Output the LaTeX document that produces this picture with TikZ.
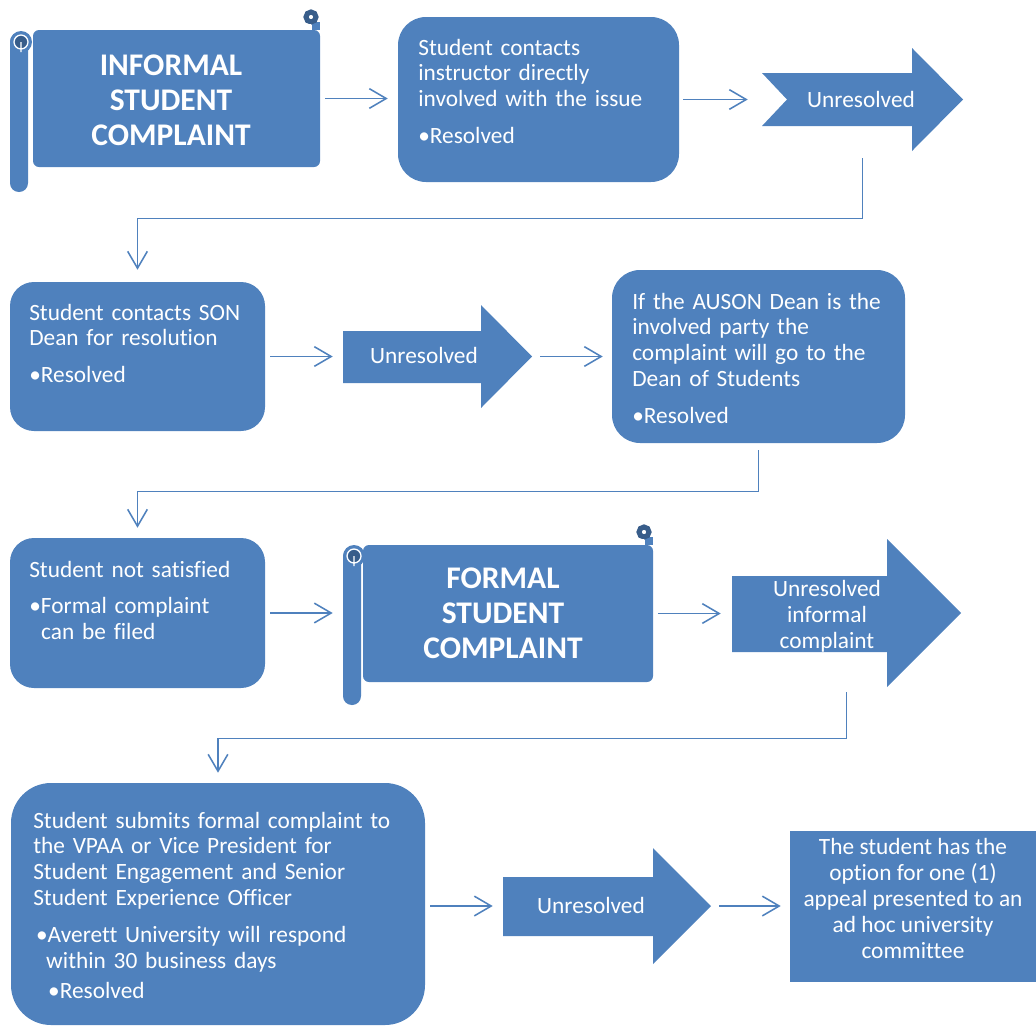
\documentclass[tikz,border=0pt]{standalone}
\usepackage{fontspec}
\setmainfont{Carlito}[Ligatures=CommonOff]
\usetikzlibrary{arrows.meta, fit}
\definecolor{flowblue}{HTML}{4F81BD}
\definecolor{curlblue}{HTML}{385D8A}
\tikzstyle{box}=[fill=flowblue, inner sep=0pt]
\tikzstyle{conn}=[draw=flowblue, line width=1.1pt, -{Straight Barb[length=12pt, width=14pt]}]
\tikzstyle{txt}=[text=white, inner sep=0pt, font=\fontsize{16.6}{18.4}\selectfont]
\tikzstyle{boxtxt}=[txt, align=left, text width=10cm, anchor=base west]
\tikzstyle{bigtxt}=[text=white, inner sep=0pt, align=center, font=\bfseries\fontsize{22.4}{24.8}\selectfont]

\begin{document}
\begin{tikzpicture}[x=0.025cm, y=-0.025cm]
	\useasboundingbox (0,0) rectangle (1036,1026);

	% Informal scroll
	\node[box, rounded corners=0.15cm, fit={(33,30) (320,167)}] (informal) {};
	\fill[flowblue, rounded corners=0.22cm] (10,33) rectangle (28,192);
	\fill[flowblue] (21,42) circle (11);
	\fill[curlblue] (21,42) circle (6);
	\draw[white, line width=0.9pt] (21,42) circle (7) (21,42) -- (21,52);
	\fill[flowblue] (312,30) rectangle (320,22);
	\draw[curlblue, line width=3.6pt] (311,17) circle (5);
	\draw[white, line width=1.4pt] (301,25) -- (311,25);
	\node[bigtxt] (informal-t) at (171,100) {INFORMAL\\STUDENT\\COMPLAINT};

	\node[box, rounded corners=0.7cm, fit={(398,17) (679,182)}] (box2) {};
	\node[boxtxt] (box2-t) at (418,55) {Student contacts\\instructor directly\\involved with the issue\\[7.8pt]•Resolved};

	\fill[flowblue] (762,73) -- (912,73) -- (912,48) -- (963,99.5) -- (912,151) -- (912,126) -- (762,126) -- (787,99.5) -- cycle;
	\node[fit={(762,48) (963,151)}, inner sep=0pt] (unres1) {};
	\node[txt, anchor=base] (unres1-t) at (861,107) {Unresolved};

	% Dean row
	\node[box, rounded corners=0.6cm, fit={(10,282) (265,431)}] (son) {};
	\node[boxtxt] (son-t) at (29,320) {Student contacts SON\\Dean for resolution\\[7.8pt]•Resolved};

	\fill[flowblue] (343,331) -- (481,331) -- (481,305) -- (532,356.5) -- (481,408) -- (481,383) -- (343,383) -- cycle;
	\node[fit={(343,305) (532,408)}, inner sep=0pt] (unres2) {};
	\node[txt, anchor=base] (unres2-t) at (424,363) {Unresolved};

	\node[box, rounded corners=0.7cm, fit={(612,270) (905,443)}] (auson) {};
	\node[boxtxt] (auson-t) at (632,309) {If the AUSON Dean is the\\involved party the\\complaint will go to the\\Dean of Students\\[7.8pt]•Resolved};

	% Formal row
	\node[box, rounded corners=0.6cm, fit={(10,538) (265,688)}] (notsat) {};
	\node[boxtxt] (notsat-t) at (29,577) {Student not satisfied\\[7.8pt]•Formal complaint\\\hspace*{8.5pt}can be filed};

	\node[box, rounded corners=0.15cm, fit={(363,545) (653,682)}] (formal) {};
	\fill[flowblue, rounded corners=0.22cm] (343,548) rectangle (361,705);
	\fill[flowblue] (354,556) circle (11);
	\fill[curlblue] (354,556) circle (6);
	\draw[white, line width=0.9pt] (354,556) circle (7) (354,556) -- (354,566);
	\fill[flowblue] (645,545) rectangle (653,537);
	\draw[curlblue, line width=3.6pt] (644,532) circle (5);
	\draw[white, line width=1.4pt] (634,540) -- (644,540);
	\node[bigtxt] (formal-t) at (503,613) {FORMAL\\STUDENT\\COMPLAINT};

	\fill[flowblue] (732,576) -- (887,576) -- (887,539) -- (961,613) -- (887,687) -- (887,652) -- (732,652) -- cycle;
	\node[fit={(732,539) (961,687)}, inner sep=0pt] (unres3) {};
	\node[txt, align=center] (unres3-t) at (827,616) {Unresolved\\informal\\complaint};

	% Appeal row
	\node[box, rounded corners=1cm, fit={(11,783) (425,1025)}] (submit) {};
	\node[boxtxt] (submit-t) at (33,828) {Student submits formal complaint to\\the VPAA or Vice President for\\Student Engagement and Senior\\Student Experience Officer\\[7.8pt]\hspace*{2pt}•Averett University will respond\\\hspace*{9.2pt}within 30 business days\\[2.9pt]\hspace*{10.6pt}•Resolved};

	\fill[flowblue] (503,877) -- (653,877) -- (653,848) -- (711,906) -- (653,964) -- (653,936) -- (503,936) -- cycle;
	\node[fit={(503,848) (711,964)}, inner sep=0pt] (unres4) {};
	\node[txt, anchor=base] (unres4-t) at (591,913) {Unresolved};

	\node[box, txt, align=center, text width=6.1cm, fit={(790,831) (1036,982)}] (appeal) {The student has the\\option for one (1)\\appeal presented to an\\ad hoc university\\committee};

	% Connectors
	\draw[conn, shorten <=0.125cm, shorten >=0.25cm] (informal.east) -- (informal.east -| box2.west);
	\draw[conn, shorten <=0.1cm, shorten >=0.35cm] (box2.east) -- (box2.east -| unres1.west);
	\draw[conn, shorten <=0.175cm, shorten >=0.3cm] (unres1.south) -- ++(0,67) -| (son.north);
	\draw[conn, shorten <=0.125cm, shorten >=0.25cm] (son.east) -- (son.east -| unres2.west);
	\draw[conn, shorten <=0.2cm, shorten >=0.225cm] (unres2.east) -- (unres2.east -| auson.west);
	\draw[conn, shorten <=0.175cm, shorten >=0.25cm] (auson.south) -- ++(0,48) -| (notsat.north);
	\draw[conn, shorten <=0.125cm, shorten >=0.75cm] (notsat.east) -- (notsat.east -| formal.west);
	\draw[conn, shorten <=0.125cm, shorten >=0.275cm] (formal.east) -- (formal.east -| unres3.west);
	\draw[conn, shorten <=0.125cm, shorten >=0.25cm] (unres3.south) -- ++(0,51) -| (submit.north);
	\draw[conn, shorten <=0.125cm, shorten >=0.25cm] (unres4.west -| submit.east) -- (unres4.west);
	\draw[conn, shorten <=0.2cm, shorten >=0.225cm] (unres4.east) -- (unres4.east -| appeal.west);
\end{tikzpicture}
\end{document}
